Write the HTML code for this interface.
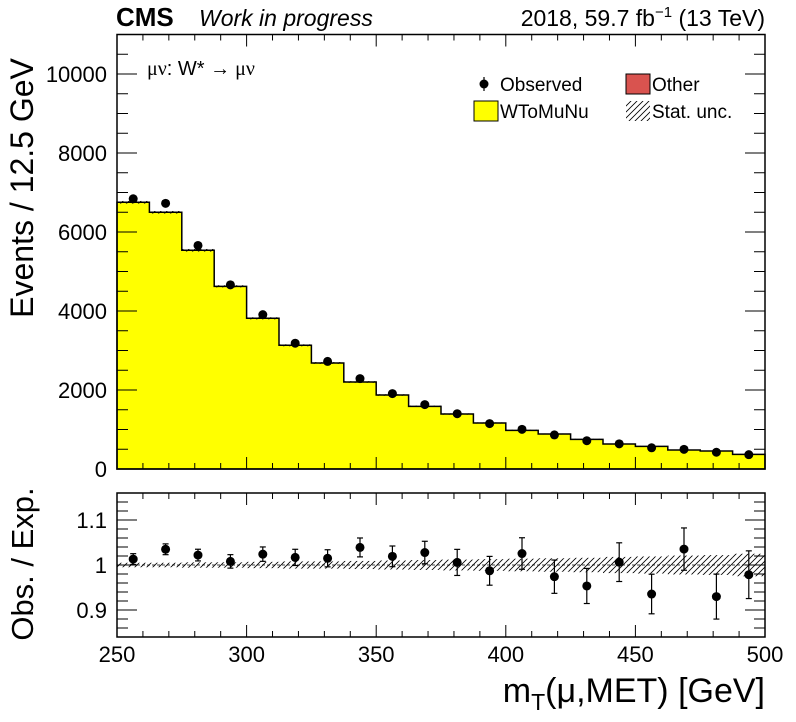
<!DOCTYPE html>
<html><head><meta charset="utf-8"><style>
body{margin:0;background:#fff;}
svg{display:block;font-family:"Liberation Sans",sans-serif;}
</style></head><body>
<svg id="c" width="796" height="722" viewBox="0 0 796 722">
<defs>
<pattern id="hatch" patternUnits="userSpaceOnUse" width="6" height="6">
<path d="M-1,7 L7,-1 M-1,1 L1,-1 M5,7 L7,5" stroke="#000" stroke-width="0.8"/>
</pattern>
</defs>
<g id="main"></g>
<g id="ratio"></g>
<text x="116" y="26" font-size="26" font-weight="bold">CMS</text>
<text x="199" y="26" font-size="23" font-style="italic">Work in progress</text>
<text x="765" y="26" font-size="23" text-anchor="end">2018, 59.7 fb<tspan dy="-9" font-size="15">−1</tspan><tspan dy="9"> (13 TeV)</tspan></text>
<text x="147" y="75" font-size="20"><tspan font-family="Liberation Serif">μν</tspan>: W* <tspan font-family="Liberation Serif">→ μν</tspan></text>
<text transform="translate(33,188) rotate(-90)" font-size="32" text-anchor="middle">Events / 12.5 GeV</text>
<text transform="translate(33,564) rotate(-90)" font-size="31" text-anchor="middle">Obs. / Exp.</text>
<text x="765" y="702" font-size="34" text-anchor="end">m<tspan dy="8" font-size="23">T</tspan><tspan dy="-8">(μ,MET) [GeV]</tspan></text>
<g>
<line x1="484" y1="77" x2="484" y2="91" stroke="#000" stroke-width="1.2"/>
<circle cx="484" cy="84" r="4.5" fill="#000"/>
<text x="500" y="91" font-size="19">Observed</text>
<rect x="626" y="74" width="24" height="20" fill="#d9534f" stroke="#000" stroke-width="1"/>
<text x="652" y="91" font-size="19">Other</text>
<rect x="474" y="101" width="24" height="20" fill="#ffff00" stroke="#000" stroke-width="1"/>
<text x="500" y="118" font-size="19">WToMuNu</text>
<rect x="626" y="101" width="24" height="20" fill="url(#hatch)"/>
<text x="652" y="118" font-size="19">Stat. unc.</text>
</g>
</svg>
<script>
const binEdgesLow = 250, binWidth = 12.5;
const mcValues = [6752,6499,5537,4625,3815,3132,2684,2203,1873,1587,1392,1165,979,886,751,633,574,481,456,371];
const dataValues = [6841,6726,5659,4662,3907,3185,2724,2289,1909,1631,1400,1150,1004,863,716,637,537,498,424,363];
const ratioErrors = [.012,.012,.013,.015,.016,.018,.019,.021,.023,.025,.029,.032,.035,.037,.039,.043,.044,.047,.05,.053];
const bandHalf = [.005,.005,.006,.006,.007,.008,.008,.009,.010,.011,.012,.013,.014,.015,.016,.018,.019,.021,.022,.025];
const yTicks = [0,2000,4000,6000,8000,10000];
const rTicks = [0.9,1,1.1];
const xTicks = [250,300,350,400,450,500];

const NS="http://www.w3.org/2000/svg";
function mk(p,t,a){const e=document.createElementNS(NS,t);for(const k in a)e.setAttribute(k,a[k]);p.appendChild(e);return e;}
const L=117,R=765,T=34.5,B=469,RT=493,RB=637;
const X=v=>L+(v-250)/(500-250)*(R-L);
const Y=v=>B-v/11000*(B-T);
const RY=v=>RB-(v-0.84)/(1.16-0.84)*(RB-RT);
const main=document.getElementById('main'), ratio=document.getElementById('ratio');

let d=`M${X(250)},${Y(0)}`;
mcValues.forEach((v,i)=>{const x0=X(binEdgesLow+i*binWidth),x1=X(binEdgesLow+(i+1)*binWidth);d+=` L${x0},${Y(v)} L${x1},${Y(v)}`;});
d+=` L${X(500)},${Y(0)} Z`;
const st=mk(main,'path',{d:d,fill:'#ffff00',stroke:'#000','stroke-width':1.5});


mcValues.forEach((v,i)=>{
 const x0=X(binEdgesLow+i*binWidth),x1=X(binEdgesLow+(i+1)*binWidth);
 const h=mk(main,'rect',{x:x0,y:Y(v*(1+bandHalf[i])),width:x1-x0,height:Y(v*(1-bandHalf[i]))-Y(v*(1+bandHalf[i])),fill:'url(#hatch)'});
 
 
});
dataValues.forEach((v,i)=>{
 const cx=X(binEdgesLow+(i+0.5)*binWidth);
 const e=Math.sqrt(v);
 mk(main,'line',{x1:cx,x2:cx,y1:Y(v+e),y2:Y(v-e),stroke:'#000','stroke-width':1.2});
 const c=mk(main,'circle',{cx:cx,cy:Y(v),r:4.5,fill:'#000'});
 
 
});
mk(main,'rect',{x:L,y:T,width:R-L,height:B-T,fill:'none',stroke:'#000','stroke-width':1.5});
mk(ratio,'rect',{x:L,y:RT,width:R-L,height:RB-RT,fill:'none',stroke:'#000','stroke-width':1.5});
for(let v=250;v<=500;v+=10){const maj=v%50===0;const x=X(v);
 mk(main,'line',{x1:x,x2:x,y1:B,y2:B-(maj?12:6),stroke:'#000'});
 mk(main,'line',{x1:x,x2:x,y1:T,y2:T+(maj?12:6),stroke:'#000'});
 mk(ratio,'line',{x1:x,x2:x,y1:RB,y2:RB-(maj?12:6),stroke:'#000'});
 mk(ratio,'line',{x1:x,x2:x,y1:RT,y2:RT+(maj?12:6),stroke:'#000'});}
xTicks.forEach(v=>{const t=mk(ratio,'text',{x:X(v),y:RB+25,'font-size':22,'text-anchor':'middle'});t.textContent=v;
 
 });
for(let v=0;v<=11000;v+=500){const maj=v%2000===0;const y=Y(v);
 mk(main,'line',{x1:L,x2:L+(maj?20:11),y1:y,y2:y,stroke:'#000'});
 mk(main,'line',{x1:R,x2:R-(maj?20:11),y1:y,y2:y,stroke:'#000'});}
yTicks.forEach(v=>{const t=mk(main,'text',{x:L-10,y:Y(v)+8,'font-size':22,'text-anchor':'end'});t.textContent=v;
 
 });
for(let k=42;k<=58;k++){const v=k/50;const maj=k%5===0;const y=RY(v);
 mk(ratio,'line',{x1:L,x2:L+(maj?20:11),y1:y,y2:y,stroke:'#000'});
 mk(ratio,'line',{x1:R,x2:R-(maj?20:11),y1:y,y2:y,stroke:'#000'});}
rTicks.forEach(v=>{const t=mk(ratio,'text',{x:L-10,y:RY(v)+8,'font-size':22,'text-anchor':'end'});t.textContent=String(v);
 
 });
bandHalf.forEach((b,i)=>{const x0=X(binEdgesLow+i*binWidth),x1=X(binEdgesLow+(i+1)*binWidth);
 const r=mk(ratio,'rect',{x:x0,y:RY(1+b),width:x1-x0,height:RY(1-b)-RY(1+b),fill:'url(#hatch)'});
 
 });
mk(ratio,'line',{x1:L,x2:R,y1:RY(1),y2:RY(1),stroke:'#000','stroke-dasharray':'3,2','stroke-width':0.8});
dataValues.forEach((v,i)=>{const r=v/mcValues[i];const cx=X(binEdgesLow+(i+0.5)*binWidth);const e=ratioErrors[i];
 mk(ratio,'line',{x1:cx,x2:cx,y1:RY(r+e),y2:RY(r-e),stroke:'#000','stroke-width':1.2});
 mk(ratio,'line',{x1:cx-3,x2:cx+3,y1:RY(r+e),y2:RY(r+e),stroke:'#000','stroke-width':1.2});
 mk(ratio,'line',{x1:cx-3,x2:cx+3,y1:RY(r-e),y2:RY(r-e),stroke:'#000','stroke-width':1.2});
 const c=mk(ratio,'circle',{cx:cx,cy:RY(r),r:4.5,fill:'#000'});
 
 });
</script>
</body></html>
